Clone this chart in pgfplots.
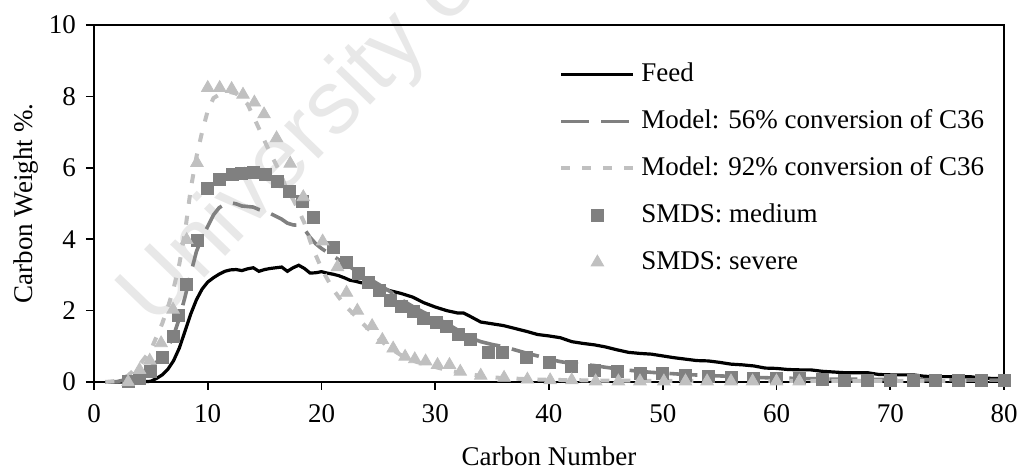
\documentclass[border=0pt]{standalone}
\usepackage{fontspec}
\setmainfont{Liberation Serif}
\newfontfamily\wmfont{Liberation Sans}
\usepackage{pgfplots}
\pgfplotsset{compat=1.18}
\definecolor{medgray}{HTML}{808080}
\definecolor{ltgray}{HTML}{C0C0C0}
\begin{document}
\begin{tikzpicture}
\node[rotate=46, anchor=base west, text=black!9, font=\wmfont\fontsize{45}{50}\selectfont] at (28pt,24pt) {University of Cape Town};
\begin{axis}[
  at={(0pt,0pt)}, anchor=south west,
  scale only axis, width=455pt, height=178.5pt,
  xmin=0, xmax=80, ymin=0, ymax=10,
  xtick={0,10,...,80}, ytick={0,2,...,10},
  tick align=outside, xtick pos=left, ytick pos=left,
  major tick length=4pt,
  axis line style={line width=0.9pt},
  every tick/.style={black, line width=0.8pt},
  font=\fontsize{13.5}{16}\selectfont,
  tick label style={font=\fontsize{13.5}{16}\selectfont},
  xticklabel style={yshift=-3.5pt},
  yticklabel style={xshift=-1.5pt},
  /pgf/number format/assume math mode=true,
  xlabel={Carbon Number},
  ylabel={Carbon Weight \%.},
  xlabel style={at={(axis description cs:0.5,-0.235)}, anchor=base},
  ylabel style={at={(axis description cs:-0.068,0.5)}, anchor=base},
  clip=false,
  legend image code/.code={\draw[mark repeat=2,mark phase=2,#1] plot coordinates {(0pt,0pt) (18pt,0pt) (36pt,0pt)};},
  legend cell align=left,
  legend style={at={(axis description cs:0.511,0.905)}, anchor=north west, draw=none, fill=none,
    font=\fontsize{13.5}{16}\selectfont, inner sep=0pt, row sep=8.5pt, column sep=2pt,
    nodes={inner sep=1pt, text height=10pt, text depth=3pt}},
]
\addplot[black, line width=1.6pt] coordinates {
(1,0) (2,0) (3,0) (4,0) (5,0.02) (5.5,0.1) (6,0.2) (6.5,0.36) (7,0.6) (7.5,0.95) (8,1.42) (8.5,1.9) (9,2.3) (9.5,2.6) (10,2.8) (10.5,2.92) (11,3.02) (11.5,3.1) (12,3.14) (12.5,3.15) (13,3.12) (13.5,3.17) (14,3.2) (14.5,3.1) (15,3.15) (15.5,3.18) (16,3.2) (16.5,3.22) (17,3.1) (17.5,3.2) (18,3.27) (18.5,3.18) (19,3.05) (19.5,3.06) (20,3.09) (20.5,3.05) (21,3.02) (21.5,2.98) (22,2.92) (22.5,2.85) (23,2.82) (23.5,2.78) (24,2.76) (25,2.65) (26,2.56) (27,2.48) (28,2.38) (29,2.22) (30,2.1) (31,2.0) (32,1.93) (32.5,1.93) (33,1.85) (34,1.68) (35,1.63) (36,1.58) (37,1.5) (38,1.42) (39,1.33) (40,1.29) (41,1.24) (42,1.13) (43,1.08) (44,1.04) (45,0.98) (46,0.9) (47,0.83) (48,0.8) (49,0.78) (50,0.73) (51,0.68) (52,0.64) (53,0.6) (54,0.59) (55,0.55) (56,0.5) (57,0.48) (58,0.45) (59,0.39) (60,0.38) (61,0.35) (62,0.34) (63,0.34) (64,0.3) (65,0.28) (66,0.26) (67,0.26) (68,0.26) (69,0.21) (70,0.2) (71,0.2) (72,0.2) (73,0.16) (74,0.15) (75,0.15) (76,0.15) (77,0.15) (78,0.11) (79,0.1) (80,0.1)
};
\addlegendentry{Feed}
\addplot[medgray, line width=1.8pt, dash pattern=on 14pt off 6pt] coordinates {
(1,0) (2,0.01) (3,0.08) (4,0.22) (5,0.42) (6,0.7) (6.5,0.98) (7,1.3) (7.5,1.78) (8,2.38) (8.5,3.03) (9,3.65) (9.5,4.05) (10,4.36) (10.5,4.68) (11,4.88) (11.5,4.98) (12,5.02) (12.5,4.99) (13,4.93) (14,4.9) (14.5,4.83) (15,4.78) (15.5,4.72) (16,4.64) (16.5,4.56) (17,4.45) (17.5,4.4) (18,4.39) (18.5,4.28) (19,4.05) (19.5,3.87) (20,3.74) (21,3.53) (22,3.33) (23,3.12) (24,2.93) (25,2.74) (26,2.54) (27,2.31) (28,2.12) (29,1.95) (30,1.8) (31,1.64) (32,1.45) (33,1.25) (34,1.13) (35,1.05) (36,0.99) (37,0.9) (38,0.81) (39,0.73) (40,0.64) (41,0.57) (42,0.52) (43,0.49) (44,0.46) (45,0.41) (46,0.37) (47,0.33) (48,0.3) (49,0.27) (50,0.25) (52,0.21) (54,0.18) (56,0.16) (58,0.13) (60,0.11) (62,0.1) (65,0.08) (70,0.07) (75,0.06) (80,0.05)
};
\addlegendentry{Model: 56\% conversion of C36}
\addplot[ltgray, line width=2pt, dash pattern=on 4.5pt off 6pt] coordinates {
(1,0) (2,0.03) (3,0.18) (4,0.48) (5,0.9) (6,1.64) (6.5,2.1) (7,2.62) (7.5,3.3) (8,4.2) (8.5,5.4) (9,6.3) (9.5,7.0) (10,7.6) (10.5,7.95) (11,8.05) (11.5,8.1) (12,8.12) (12.5,8.08) (13,7.95) (13.5,7.78) (14,7.45) (14.5,7.1) (15,6.75) (15.5,6.4) (16,6.1) (16.5,5.75) (17,5.35) (17.5,5.12) (18,4.8) (18.5,4.45) (19,3.95) (19.5,3.55) (20,3.18) (21,2.6) (22,2.17) (23,1.84) (24,1.52) (25,1.22) (26,0.95) (27,0.75) (28,0.6) (29,0.5) (30,0.42) (31,0.34) (32,0.27) (33,0.22) (34,0.17) (35,0.13) (36,0.11) (38,0.08) (40,0.06) (45,0.04) (50,0.03) (60,0.03) (70,0.03) (80,0.03)
};
\addlegendentry{Model: 92\% conversion of C36}
\addplot[only marks, mark=square*, mark size=3pt, color=medgray, mark options={fill=medgray, draw=medgray}] coordinates {
(3,0.03) (4,0.1) (5,0.3) (6,0.68) (7,1.28) (7.4,1.87) (8.1,2.73) (9.1,3.98) (10,5.43) (11.05,5.68) (12.2,5.82) (13,5.83) (14.05,5.87) (15.05,5.82) (16.15,5.62) (17.2,5.33) (18.35,5.05) (19.25,4.62) (21.05,3.77) (22.2,3.34) (23.2,3.03) (24.1,2.78) (25.05,2.57) (26.05,2.28) (27.05,2.13) (28.05,1.98) (29.0,1.78) (30.1,1.67) (31.0,1.57) (32.05,1.32) (33.1,1.19) (34.7,0.83) (35.9,0.83) (38.0,0.69) (40.0,0.55) (42.0,0.43) (44.0,0.33) (46,0.29) (48,0.25) (50,0.23) (52,0.18) (54,0.17) (56,0.13) (58,0.11) (60,0.1) (62,0.09) (64,0.07) (66,0.05) (68,0.05) (70,0.05) (72,0.05) (74,0.05) (76,0.05) (78,0.05) (80,0.05)
};
\addlegendentry{SMDS: medium}
\addplot[only marks, mark=triangle*, mark size=3.6pt, color=ltgray, mark options={fill=ltgray, draw=ltgray}] coordinates {
(3,0.0) (4,0.34) (4.9,0.6) (5.9,1.09) (6.95,2.03) (8.15,3.98) (9.05,6.14) (10,8.24) (11.05,8.24) (12.1,8.21) (13.1,8.05) (14.1,7.83) (14.95,7.5) (16.05,6.83) (17.25,6.12) (18.4,5.18) (20.1,3.94) (21.4,3.22) (22.2,2.5) (23.15,2.0) (24.45,1.57) (25.35,1.18) (26.3,0.94) (27.35,0.71) (28.2,0.64) (29.15,0.58) (30.2,0.48) (31.25,0.48) (32.2,0.29) (34.0,0.18) (36.05,0.12) (38.1,0.07) (40.1,0.05) (42,0.05) (44.1,0.02) (46.1,0.02) (48,0.02) (50.1,0.02) (52,0.02) (53.9,0.02) (56,0.02) (57.9,0.02) (60,0.02) (62,0.02)
};
\addlegendentry{SMDS: severe}
\end{axis}
\pgfresetboundingbox
\useasboundingbox (-47pt,-46pt) rectangle (463.5pt,191pt);
\end{tikzpicture}
\end{document}
